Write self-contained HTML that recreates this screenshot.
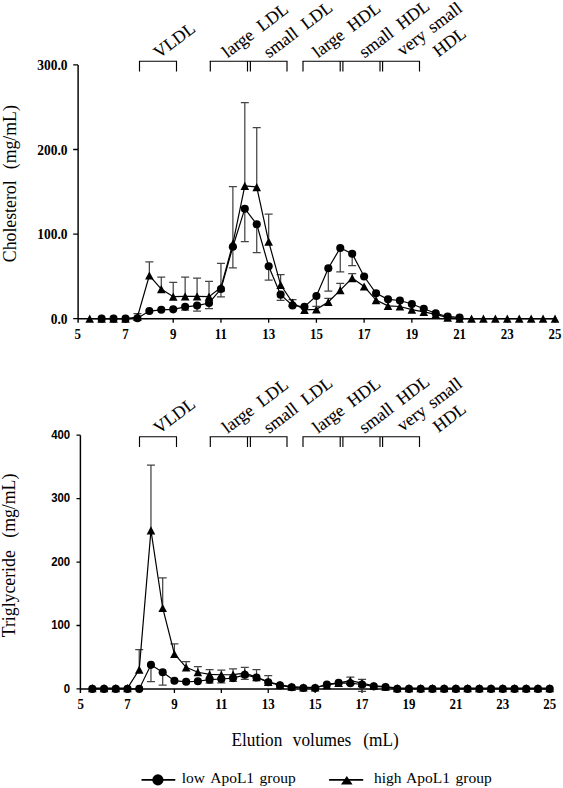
<!DOCTYPE html>
<html><head><meta charset="utf-8"><title>Lipoprotein profile</title>
<style>html,body{margin:0;padding:0;background:#fff;width:563px;height:788px;overflow:hidden}svg{display:block}</style>
</head><body>
<svg width="563" height="788" viewBox="0 0 563 788">
<style>
text{font-family:"Liberation Serif",serif;fill:#000}
.xl{font-weight:bold;font-size:15px;text-anchor:middle}
.yl1{font-weight:bold;font-size:14px;text-anchor:end;dominant-baseline:central}
.yl2{font-family:"Liberation Sans",sans-serif;font-weight:bold;font-size:12px;text-anchor:end;dominant-baseline:central}
.bl{font-size:17.6px;stroke:#000;stroke-width:0.1px}
.tt{font-size:18.6px}
.lg{font-size:15.5px}
</style>
<path d="M78.1 64.9V322.66M78.1 318.66H555.6" stroke="#000" stroke-width="1.45" fill="none"/>
<path d="M73.2 318.66H78.1M73.2 234.07H78.1M73.2 149.48H78.1M73.2 64.89H78.1M125.5 318.66V322.66M173.22 318.66V322.66M220.95 318.66V322.66M268.67 318.66V322.66M316.4 318.66V322.66M364.13 318.66V322.66M411.85 318.66V322.66M459.58 318.66V322.66M507.3 318.66V322.66M555.03 318.66V322.66" stroke="#000" stroke-width="1.3" fill="none"/>
<text transform="translate(67.6 319.46) scale(0.96 1)" class="yl1">0.0</text>
<text transform="translate(67.6 234.87) scale(0.96 1)" class="yl1">100.0</text>
<text transform="translate(67.6 150.28) scale(0.96 1)" class="yl1">200.0</text>
<text transform="translate(67.6 65.69) scale(0.96 1)" class="yl1">300.0</text>
<text transform="translate(77.77 338.5) scale(0.86 1)" class="xl">5</text>
<text transform="translate(125.5 338.5) scale(0.86 1)" class="xl">7</text>
<text transform="translate(173.22 338.5) scale(0.86 1)" class="xl">9</text>
<text transform="translate(220.95 338.5) scale(0.86 1)" class="xl">11</text>
<text transform="translate(268.67 338.5) scale(0.86 1)" class="xl">13</text>
<text transform="translate(316.4 338.5) scale(0.86 1)" class="xl">15</text>
<text transform="translate(364.13 338.5) scale(0.86 1)" class="xl">17</text>
<text transform="translate(411.85 338.5) scale(0.86 1)" class="xl">19</text>
<text transform="translate(459.58 338.5) scale(0.86 1)" class="xl">21</text>
<text transform="translate(507.3 338.5) scale(0.86 1)" class="xl">23</text>
<text transform="translate(555.03 338.5) scale(0.86 1)" class="xl">25</text>
<path d="M139 61.25H177M209.6 61.25H287.6M302.4 61.25H420.1M139.5 61.25V71.4M176.5 61.25V71.4M210.3 61.25V71.4M247.5 61.25V71.4M250.4 61.25V71.4M287 61.25V71.4M303 61.25V71.4M340.2 61.25V71.4M342.9 61.25V71.4M380 61.25V71.4M382.6 61.25V71.4M419.5 61.25V71.4" stroke="#000" stroke-width="1.15" fill="none"/>
<text class="bl" transform="translate(159 59) rotate(-37)">VLDL</text>
<text class="bl" transform="translate(227.5 58.5) rotate(-37)">large&#160;&#160;LDL</text>
<text class="bl" transform="translate(269 58.5) rotate(-37)">small&#160;&#160;LDL</text>
<text class="bl" transform="translate(318 58.5) rotate(-37)">large&#160;&#160;HDL</text>
<text class="bl" transform="translate(364.5 58.5) rotate(-37)">small&#160;&#160;HDL</text>
<text class="bl" style="word-spacing:2.5px" transform="translate(402.5 56.5) rotate(-37)">very small</text>
<text class="bl" transform="translate(438.5 57.5) rotate(-37)">HDL</text>
<path d="M137.43 316.97V313.58M133.43 313.58H141.43M149.36 275.52V261.98M145.36 261.98H153.36M161.29 289.05V277.21M157.29 277.21H165.29M173.22 296.67V282.29M169.22 282.29H177.22M185.15 296.33V277.21M181.15 277.21H189.15M197.08 296.33V278.06M193.08 278.06H201.08M209.02 296.67V281.44M205.02 281.44H213.02M220.95 287.36V263.25M216.95 263.25H224.95M232.88 243.71V186.7M228.88 186.7H236.88M244.81 185.85V102.53M240.81 102.53H248.81M256.74 187.04V127.66M252.74 127.66H260.74M268.67 241.68V214.19M264.67 214.19H272.67M280.61 284.82V274.67M276.61 274.67H284.61M292.54 302.59V299.63M288.54 299.63H296.54M328.33 302V298.36M324.33 298.36H332.33M340.26 290.07V283.3M336.26 283.3H344.26M352.19 278.06V273.57M348.19 273.57H356.19" stroke="#454545" stroke-width="1.25" fill="none"/>
<polyline points="89.7,318.66 101.63,318.66 113.56,318.66 125.5,318.66 137.43,316.97 149.36,275.52 161.29,289.05 173.22,296.67 185.15,296.33 197.08,296.33 209.02,296.67 220.95,287.36 232.88,243.71 244.81,185.85 256.74,187.04 268.67,241.68 280.61,284.82 292.54,302.59 304.47,309.95 316.4,309.36 328.33,302 340.26,290.07 352.19,278.06 364.13,286.52 376.06,300.05 387.99,305.8 399.92,306.48 411.85,309.69 423.78,311.89 435.71,314.43 447.65,317.64 459.58,318.66 471.51,318.66 483.44,318.66 495.37,318.66 507.3,318.66 519.24,318.66 531.17,318.66 543.1,318.66 555.03,318.66" fill="none" stroke="#000" stroke-width="1.2"/>
<g fill="#000"><path d="M89.7 314.56L94 322.76L85.4 322.76Z"/><path d="M101.63 314.56L105.93 322.76L97.33 322.76Z"/><path d="M113.56 314.56L117.86 322.76L109.26 322.76Z"/><path d="M125.5 314.56L129.8 322.76L121.2 322.76Z"/><path d="M137.43 312.87L141.73 321.07L133.13 321.07Z"/><path d="M149.36 271.42L153.66 279.62L145.06 279.62Z"/><path d="M161.29 284.95L165.59 293.15L156.99 293.15Z"/><path d="M173.22 292.57L177.52 300.77L168.92 300.77Z"/><path d="M185.15 292.23L189.45 300.43L180.85 300.43Z"/><path d="M197.08 292.23L201.38 300.43L192.78 300.43Z"/><path d="M209.02 292.57L213.32 300.77L204.72 300.77Z"/><path d="M220.95 283.26L225.25 291.46L216.65 291.46Z"/><path d="M232.88 239.61L237.18 247.81L228.58 247.81Z"/><path d="M244.81 181.75L249.11 189.95L240.51 189.95Z"/><path d="M256.74 182.94L261.04 191.14L252.44 191.14Z"/><path d="M268.67 237.58L272.97 245.78L264.37 245.78Z"/><path d="M280.61 280.72L284.91 288.92L276.31 288.92Z"/><path d="M292.54 298.49L296.84 306.69L288.24 306.69Z"/><path d="M304.47 305.85L308.77 314.05L300.17 314.05Z"/><path d="M316.4 305.26L320.7 313.46L312.1 313.46Z"/><path d="M328.33 297.9L332.63 306.1L324.03 306.1Z"/><path d="M340.26 285.97L344.56 294.17L335.96 294.17Z"/><path d="M352.19 273.96L356.49 282.16L347.89 282.16Z"/><path d="M364.13 282.42L368.43 290.62L359.83 290.62Z"/><path d="M376.06 295.95L380.36 304.15L371.76 304.15Z"/><path d="M387.99 301.7L392.29 309.9L383.69 309.9Z"/><path d="M399.92 302.38L404.22 310.58L395.62 310.58Z"/><path d="M411.85 305.59L416.15 313.79L407.55 313.79Z"/><path d="M423.78 307.79L428.08 315.99L419.48 315.99Z"/><path d="M435.71 310.33L440.01 318.53L431.41 318.53Z"/><path d="M447.65 313.54L451.95 321.74L443.35 321.74Z"/><path d="M459.58 314.56L463.88 322.76L455.28 322.76Z"/><path d="M471.51 314.56L475.81 322.76L467.21 322.76Z"/><path d="M483.44 314.56L487.74 322.76L479.14 322.76Z"/><path d="M495.37 314.56L499.67 322.76L491.07 322.76Z"/><path d="M507.3 314.56L511.6 322.76L503 322.76Z"/><path d="M519.24 314.56L523.54 322.76L514.94 322.76Z"/><path d="M531.17 314.56L535.47 322.76L526.87 322.76Z"/><path d="M543.1 314.56L547.4 322.76L538.8 322.76Z"/><path d="M555.03 314.56L559.33 322.76L550.73 322.76Z"/></g>
<path d="M185.15 306.82V310.2M181.15 310.2H189.15M197.08 305.55V311.05M193.08 311.05H201.08M209.02 303.01V308.51M205.02 308.51H213.02M220.95 289.05V296.92M216.95 296.92H224.95M232.88 246.76V267.91M228.88 267.91H236.88M244.81 208.69V241.68M240.81 241.68H248.81M256.74 224.26V252.68M252.74 252.68H260.74M268.67 266.21V280.17M264.67 280.17H272.67M280.61 294.64V300.3M276.61 300.3H284.61M316.4 295.99V306.39M312.4 306.39H320.4M328.33 268.24V291M324.33 291H332.33M340.26 247.94V271.8M336.26 271.8H344.26M352.19 253.69V265.54M348.19 265.54H356.19" stroke="#454545" stroke-width="1.25" fill="none"/>
<polyline points="101.63,318.66 113.56,318.66 125.5,318.66 137.43,318.24 149.36,311.05 161.29,309.78 173.22,309.36 185.15,306.82 197.08,305.55 209.02,303.01 220.95,289.05 232.88,246.76 244.81,208.69 256.74,224.26 268.67,266.21 280.61,294.64 292.54,305.46 304.47,306.73 316.4,295.99 328.33,268.24 340.26,247.94 352.19,253.69 364.13,276.53 376.06,293.28 387.99,299.37 399.92,300.47 411.85,304.03 423.78,308.76 435.71,313.25 447.65,316.46 459.58,317.56" fill="none" stroke="#000" stroke-width="1.2"/>
<g fill="#000"><circle cx="101.63" cy="318.66" r="4.05"/><circle cx="113.56" cy="318.66" r="4.05"/><circle cx="125.5" cy="318.66" r="4.05"/><circle cx="137.43" cy="318.24" r="4.05"/><circle cx="149.36" cy="311.05" r="4.05"/><circle cx="161.29" cy="309.78" r="4.05"/><circle cx="173.22" cy="309.36" r="4.05"/><circle cx="185.15" cy="306.82" r="4.05"/><circle cx="197.08" cy="305.55" r="4.05"/><circle cx="209.02" cy="303.01" r="4.05"/><circle cx="220.95" cy="289.05" r="4.05"/><circle cx="232.88" cy="246.76" r="4.05"/><circle cx="244.81" cy="208.69" r="4.05"/><circle cx="256.74" cy="224.26" r="4.05"/><circle cx="268.67" cy="266.21" r="4.05"/><circle cx="280.61" cy="294.64" r="4.05"/><circle cx="292.54" cy="305.46" r="4.05"/><circle cx="304.47" cy="306.73" r="4.05"/><circle cx="316.4" cy="295.99" r="4.05"/><circle cx="328.33" cy="268.24" r="4.05"/><circle cx="340.26" cy="247.94" r="4.05"/><circle cx="352.19" cy="253.69" r="4.05"/><circle cx="364.13" cy="276.53" r="4.05"/><circle cx="376.06" cy="293.28" r="4.05"/><circle cx="387.99" cy="299.37" r="4.05"/><circle cx="399.92" cy="300.47" r="4.05"/><circle cx="411.85" cy="304.03" r="4.05"/><circle cx="423.78" cy="308.76" r="4.05"/><circle cx="435.71" cy="313.25" r="4.05"/><circle cx="447.65" cy="316.46" r="4.05"/><circle cx="459.58" cy="317.56" r="4.05"/></g>
<text class="tt" transform="translate(15.6 262.2) rotate(-90) scale(0.955 1)">Cholesterol</text>
<text class="tt" transform="translate(15.6 105.2) rotate(-90) scale(0.955 1)" text-anchor="end">(mg/mL)</text>
<path d="M80.4 435.2V692.9M80.4 688.9H549.7" stroke="#000" stroke-width="1.45" fill="none"/>
<path d="M76.5 688.9H80.4M76.5 625.48H80.4M76.5 562.06H80.4M76.5 498.64H80.4M76.5 435.22H80.4M127.5 688.9V692.9M174.41 688.9V692.9M221.33 688.9V692.9M268.24 688.9V692.9M315.15 688.9V692.9M362.06 688.9V692.9M408.97 688.9V692.9M455.89 688.9V692.9M502.8 688.9V692.9M549.71 688.9V692.9" stroke="#000" stroke-width="1.3" fill="none"/>
<text transform="translate(70.2 687.9) scale(0.95 1)" class="yl2">0</text>
<text transform="translate(70.2 624.48) scale(0.95 1)" class="yl2">100</text>
<text transform="translate(70.2 561.06) scale(0.95 1)" class="yl2">200</text>
<text transform="translate(70.2 497.64) scale(0.95 1)" class="yl2">300</text>
<text transform="translate(70.2 434.22) scale(0.95 1)" class="yl2">400</text>
<text transform="translate(80.59 708.5) scale(0.86 1)" class="xl">5</text>
<text transform="translate(127.5 708.5) scale(0.86 1)" class="xl">7</text>
<text transform="translate(174.41 708.5) scale(0.86 1)" class="xl">9</text>
<text transform="translate(221.33 708.5) scale(0.86 1)" class="xl">11</text>
<text transform="translate(268.24 708.5) scale(0.86 1)" class="xl">13</text>
<text transform="translate(315.15 708.5) scale(0.86 1)" class="xl">15</text>
<text transform="translate(362.06 708.5) scale(0.86 1)" class="xl">17</text>
<text transform="translate(408.97 708.5) scale(0.86 1)" class="xl">19</text>
<text transform="translate(455.89 708.5) scale(0.86 1)" class="xl">21</text>
<text transform="translate(502.8 708.5) scale(0.86 1)" class="xl">23</text>
<text transform="translate(549.71 708.5) scale(0.86 1)" class="xl">25</text>
<path d="M139 436.75H177M209.6 436.75H287.6M302.4 436.75H420.1M139.5 436.75V446.9M176.5 436.75V446.9M210.3 436.75V446.9M247.5 436.75V446.9M250.4 436.75V446.9M287 436.75V446.9M303 436.75V446.9M340.2 436.75V446.9M342.9 436.75V446.9M380 436.75V446.9M382.6 436.75V446.9M419.5 436.75V446.9" stroke="#000" stroke-width="1.15" fill="none"/>
<text class="bl" transform="translate(159 434.5) rotate(-37)">VLDL</text>
<text class="bl" transform="translate(227.5 434) rotate(-37)">large&#160;&#160;LDL</text>
<text class="bl" transform="translate(269 434) rotate(-37)">small&#160;&#160;LDL</text>
<text class="bl" transform="translate(318 434) rotate(-37)">large&#160;&#160;HDL</text>
<text class="bl" transform="translate(364.5 434) rotate(-37)">small&#160;&#160;HDL</text>
<text class="bl" style="word-spacing:2.5px" transform="translate(402.5 432) rotate(-37)">very small</text>
<text class="bl" transform="translate(438.5 433) rotate(-37)">HDL</text>
<path d="M139.23 669.56V649.58M135.23 649.58H143.23M150.96 530.35V465.03M146.96 465.03H154.96M162.69 607.98V577.91M158.69 577.91H166.69M174.41 654.02V643.87M170.41 643.87H178.41M186.14 667.34V661.63M182.14 661.63H190.14M197.87 672.22V666.7M193.87 666.7H201.87M209.6 674.31V669.56M205.6 669.56H213.6M221.33 674.76V670.19M217.33 670.19H225.33M233.05 674.63V668.92M229.05 668.92H237.05M244.78 673.04V667.34M240.78 667.34H248.78M256.51 677.17V669.56M252.51 669.56H260.51M268.24 681.92V675.58M264.24 675.58H272.24M350.33 680.66V677.17M346.33 677.17H354.33M362.06 683.19V679.39M358.06 679.39H366.06" stroke="#454545" stroke-width="1.25" fill="none"/>
<polyline points="92.32,688.08 104.05,688.08 115.77,688.08 127.5,688.08 139.23,669.56 150.96,530.35 162.69,607.98 174.41,654.02 186.14,667.34 197.87,672.22 209.6,674.31 221.33,674.76 233.05,674.63 244.78,673.04 256.51,677.17 268.24,681.92 279.97,684.78 291.69,686.68 303.42,687.38 315.15,687.38 326.88,685.09 338.61,682.88 350.33,680.66 362.06,683.19 373.79,685.73 385.52,686.68 397.25,688.08 408.97,688.08 420.7,688.08 432.43,688.08 444.16,688.08 455.89,688.08 467.61,688.08 479.34,688.08 491.07,688.08 502.8,688.08 514.53,688.08 526.25,688.08 537.98,688.08 549.71,688.08" fill="none" stroke="#000" stroke-width="1.2"/>
<g fill="#000"><path d="M92.32 683.98L96.62 692.18L88.02 692.18Z"/><path d="M104.05 683.98L108.35 692.18L99.75 692.18Z"/><path d="M115.77 683.98L120.07 692.18L111.47 692.18Z"/><path d="M127.5 683.98L131.8 692.18L123.2 692.18Z"/><path d="M139.23 665.46L143.53 673.66L134.93 673.66Z"/><path d="M150.96 526.25L155.26 534.45L146.66 534.45Z"/><path d="M162.69 603.88L166.99 612.08L158.39 612.08Z"/><path d="M174.41 649.92L178.71 658.12L170.11 658.12Z"/><path d="M186.14 663.24L190.44 671.44L181.84 671.44Z"/><path d="M197.87 668.12L202.17 676.32L193.57 676.32Z"/><path d="M209.6 670.21L213.9 678.41L205.3 678.41Z"/><path d="M221.33 670.66L225.63 678.86L217.03 678.86Z"/><path d="M233.05 670.53L237.35 678.73L228.75 678.73Z"/><path d="M244.78 668.94L249.08 677.14L240.48 677.14Z"/><path d="M256.51 673.07L260.81 681.27L252.21 681.27Z"/><path d="M268.24 677.82L272.54 686.02L263.94 686.02Z"/><path d="M279.97 680.68L284.27 688.88L275.67 688.88Z"/><path d="M291.69 682.58L295.99 690.78L287.39 690.78Z"/><path d="M303.42 683.28L307.72 691.48L299.12 691.48Z"/><path d="M315.15 683.28L319.45 691.48L310.85 691.48Z"/><path d="M326.88 680.99L331.18 689.19L322.58 689.19Z"/><path d="M338.61 678.78L342.91 686.98L334.31 686.98Z"/><path d="M350.33 676.56L354.63 684.76L346.03 684.76Z"/><path d="M362.06 679.09L366.36 687.29L357.76 687.29Z"/><path d="M373.79 681.63L378.09 689.83L369.49 689.83Z"/><path d="M385.52 682.58L389.82 690.78L381.22 690.78Z"/><path d="M397.25 683.98L401.55 692.18L392.95 692.18Z"/><path d="M408.97 683.98L413.27 692.18L404.67 692.18Z"/><path d="M420.7 683.98L425 692.18L416.4 692.18Z"/><path d="M432.43 683.98L436.73 692.18L428.13 692.18Z"/><path d="M444.16 683.98L448.46 692.18L439.86 692.18Z"/><path d="M455.89 683.98L460.19 692.18L451.59 692.18Z"/><path d="M467.61 683.98L471.91 692.18L463.31 692.18Z"/><path d="M479.34 683.98L483.64 692.18L475.04 692.18Z"/><path d="M491.07 683.98L495.37 692.18L486.77 692.18Z"/><path d="M502.8 683.98L507.1 692.18L498.5 692.18Z"/><path d="M514.53 683.98L518.83 692.18L510.23 692.18Z"/><path d="M526.25 683.98L530.55 692.18L521.95 692.18Z"/><path d="M537.98 683.98L542.28 692.18L533.68 692.18Z"/><path d="M549.71 683.98L554.01 692.18L545.41 692.18Z"/></g>
<path d="M150.96 664.86V681.61M146.96 681.61H154.96M162.69 672.28V685.03M158.69 685.03H166.69M209.6 679.7V683.19M205.6 683.19H213.6M221.33 679.01V682.81M217.33 682.81H225.33M233.05 678.12V681.29M229.05 681.29H237.05M244.78 674.82V679.39M240.78 679.39H248.78M362.06 684.52V691.44M358.06 691.44H366.06" stroke="#454545" stroke-width="1.25" fill="none"/>
<polyline points="92.32,688.9 104.05,688.9 115.77,688.9 127.5,688.9 139.23,688.9 150.96,664.86 162.69,672.28 174.41,680.72 186.14,681.8 197.87,681.23 209.6,679.7 221.33,679.01 233.05,678.12 244.78,674.82 256.51,677.48 268.24,682.24 279.97,685.41 291.69,687.31 303.42,688.01 315.15,688.01 326.88,684.46 338.61,682.88 350.33,683.19 362.06,684.52 373.79,686.36 385.52,687 397.25,688.9 408.97,688.9 420.7,688.9 432.43,688.9 444.16,688.9 455.89,688.9 467.61,688.9 479.34,688.9 491.07,688.9 502.8,688.9 514.53,688.9 526.25,688.9 537.98,688.9 549.71,688.9" fill="none" stroke="#000" stroke-width="1.2"/>
<g fill="#000"><circle cx="92.32" cy="688.9" r="4.05"/><circle cx="104.05" cy="688.9" r="4.05"/><circle cx="115.77" cy="688.9" r="4.05"/><circle cx="127.5" cy="688.9" r="4.05"/><circle cx="139.23" cy="688.9" r="4.05"/><circle cx="150.96" cy="664.86" r="4.05"/><circle cx="162.69" cy="672.28" r="4.05"/><circle cx="174.41" cy="680.72" r="4.05"/><circle cx="186.14" cy="681.8" r="4.05"/><circle cx="197.87" cy="681.23" r="4.05"/><circle cx="209.6" cy="679.7" r="4.05"/><circle cx="221.33" cy="679.01" r="4.05"/><circle cx="233.05" cy="678.12" r="4.05"/><circle cx="244.78" cy="674.82" r="4.05"/><circle cx="256.51" cy="677.48" r="4.05"/><circle cx="268.24" cy="682.24" r="4.05"/><circle cx="279.97" cy="685.41" r="4.05"/><circle cx="291.69" cy="687.31" r="4.05"/><circle cx="303.42" cy="688.01" r="4.05"/><circle cx="315.15" cy="688.01" r="4.05"/><circle cx="326.88" cy="684.46" r="4.05"/><circle cx="338.61" cy="682.88" r="4.05"/><circle cx="350.33" cy="683.19" r="4.05"/><circle cx="362.06" cy="684.52" r="4.05"/><circle cx="373.79" cy="686.36" r="4.05"/><circle cx="385.52" cy="687" r="4.05"/><circle cx="397.25" cy="688.9" r="4.05"/><circle cx="408.97" cy="688.9" r="4.05"/><circle cx="420.7" cy="688.9" r="4.05"/><circle cx="432.43" cy="688.9" r="4.05"/><circle cx="444.16" cy="688.9" r="4.05"/><circle cx="455.89" cy="688.9" r="4.05"/><circle cx="467.61" cy="688.9" r="4.05"/><circle cx="479.34" cy="688.9" r="4.05"/><circle cx="491.07" cy="688.9" r="4.05"/><circle cx="502.8" cy="688.9" r="4.05"/><circle cx="514.53" cy="688.9" r="4.05"/><circle cx="526.25" cy="688.9" r="4.05"/><circle cx="537.98" cy="688.9" r="4.05"/><circle cx="549.71" cy="688.9" r="4.05"/></g>
<text class="tt" transform="translate(14.9 637.3) rotate(-90) scale(0.955 1)">Triglyceride</text>
<text class="tt" transform="translate(14.9 473.7) rotate(-90) scale(0.955 1)" text-anchor="end">(mg/mL)</text>
<text class="tt" style="font-size:18.1px" transform="translate(231.5 745.6) scale(0.955 1)">Elution</text>
<text class="tt" style="font-size:18.1px" transform="translate(292.8 745.6) scale(0.955 1)">volumes</text>
<text class="tt" style="font-size:18.1px" transform="translate(363.3 745.6) scale(0.955 1)">(mL)</text>
<path d="M141.5 779.9H175.3M329.1 779.9H363.2" stroke="#000" stroke-width="1.6"/>
<circle cx="157.9" cy="779.9" r="5.6"/>
<path d="M346.8 776L352.6 784.4L341 784.4Z"/>
<text class="lg" y="782.9"><tspan x="181.8">low</tspan><tspan x="210.2">ApoL1</tspan><tspan x="259.6">group</tspan></text>
<text class="lg" y="782.9"><tspan x="373.9">high</tspan><tspan x="406.1">ApoL1</tspan><tspan x="455.5">group</tspan></text>
</svg>
</body></html>
